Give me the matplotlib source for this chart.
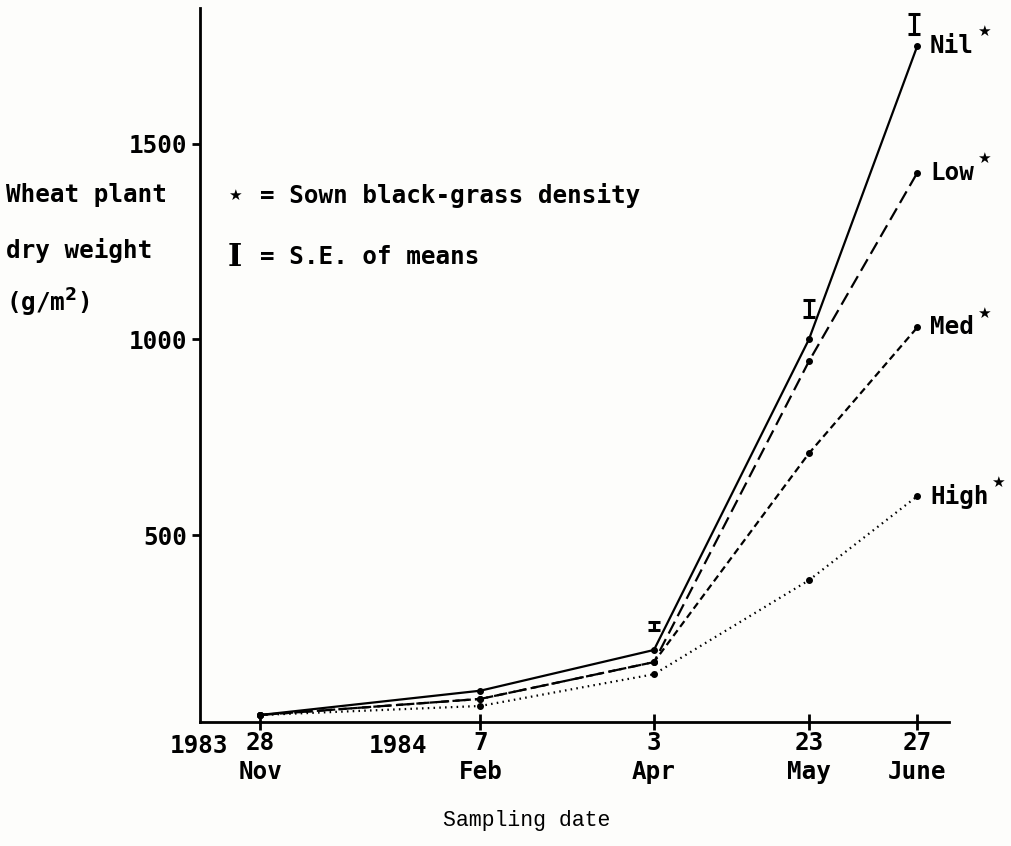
import numpy as np
import matplotlib
matplotlib.use('Agg')
import matplotlib.pyplot as plt

# days since 28 Nov 1983
days = [0, 71, 127, 177, 212]
day_labels = ['28\nNov', '7\nFeb', '3\nApr', '23\nMay', '27\nJune']

nil = [41, 103, 207, 1000, 1750]
low = [41, 82, 176, 944, 1426]
med = [41, 82, 176, 709, 1031]
high = [41, 64, 145, 385, 600]

# S.E. bars drawn above the points (centre, half height)
se_days = [127, 177, 211]
se_mid = [268, 1079, 1806]
se_half = [10, 22, 26]

mono = 'DejaVu Sans Mono'
fs = 17.5
wt = 'semibold'
bg = '#fdfdfb'

fig = plt.figure(figsize=(10.11, 8.46), dpi=100, facecolor=bg)
ax = fig.add_axes([0.198, 0.147, 0.741, 0.843], facecolor=bg)

ax.plot(days, nil, '-', color='black', lw=1.6, marker='o', ms=4)
ax.plot(days, low, color='black', lw=1.6, marker='o', ms=4, dashes=(6, 2.8))
ax.plot(days, med, color='black', lw=1.6, marker='o', ms=4, dashes=(3.2, 1.9))
ax.plot(days, high, color='black', lw=1.6, marker='o', ms=4, dashes=(0.7, 1.9))

ax.errorbar(se_days, se_mid, yerr=se_half, fmt='none', ecolor='black',
            elinewidth=2.2, capsize=4, capthick=2.2)

ax.set_xlim(-19.4, 222.3)
ax.set_ylim(24, 1845)
ax.spines['top'].set_visible(False)
ax.spines['right'].set_visible(False)
ax.spines['left'].set_linewidth(2)
ax.spines['bottom'].set_linewidth(2)

ax.set_yticks([500, 1000, 1500])
ax.set_yticklabels(['500', '1000', '1500'], family=mono, fontsize=fs, fontweight=wt)
ax.set_xticks(days)
ax.set_xticklabels(day_labels, family=mono, fontsize=fs, fontweight=wt, linespacing=1.25)
ax.tick_params(axis='y', direction='out', length=6, width=2, pad=3)
ax.tick_params(axis='x', direction='inout', length=12, width=2, pad=1)

# year labels
ax.text(-19.7, -0.018, '1983', transform=ax.get_xaxis_transform(), ha='center', va='top',
        family=mono, fontsize=fs, fontweight=wt)
ax.text(44.5, -0.018, '1984', transform=ax.get_xaxis_transform(), ha='center', va='top',
        family=mono, fontsize=fs, fontweight=wt)

# y label
fig.text(0.006, 0.769, 'Wheat plant', family=mono, fontsize=fs, fontweight=wt, va='center')
fig.text(0.006, 0.704, 'dry weight', family=mono, fontsize=fs, fontweight=wt, va='center')
fig.text(0.006, 0.642, r'(g/m$^\mathbf{2}$)', family=mono, fontsize=fs, fontweight=wt,
         va='center')

# key
fig.text(0.2325, 0.769, '★', family='DejaVu Sans', fontsize=11, va='center', ha='center')
fig.text(0.257, 0.769, '= Sown black-grass density', family=mono, fontsize=fs,
         fontweight=wt, va='center')
fig.text(0.2325, 0.696, 'I', family='DejaVu Serif', fontsize=22, fontweight='bold',
         va='center', ha='center')
fig.text(0.257, 0.696, '= S.E. of means', family=mono, fontsize=fs, fontweight=wt, va='center')

# series labels with superscript star
adv = fs * 0.602
for name, vals in [('Nil', nil), ('Low', low), ('Med', med), ('High', high)]:
    ax.annotate(name, (days[-1], vals[-1]), xytext=(9, 0), textcoords='offset points',
                va='center', family=mono, fontsize=fs, fontweight=wt)
    ax.annotate('★', (days[-1], vals[-1]), xytext=(9 + len(name) * adv + 2, 10),
                textcoords='offset points', va='center', family='DejaVu Sans', fontsize=11)

fig.text(0.521, 0.024, 'Sampling date', family='Liberation Mono', fontsize=15.5, ha='center')

fig.savefig('out.png', dpi=100, facecolor=bg)
